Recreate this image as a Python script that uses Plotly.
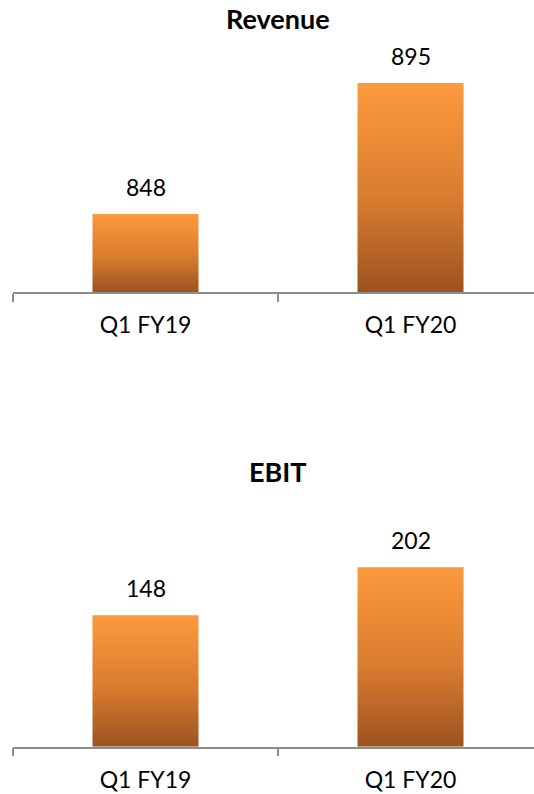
import plotly.graph_objects as go

categories = ["Q1 FY19", "Q1 FY20"]
revenue = [848, 895]
ebit = [148, 202]
titles = ["Revenue", "EBIT"]

W, H = 534, 794
FONT = "Lato"
AXIS_COLOR = "#8c8c8c"
GRAD = [[0.0, "#9C531F"], [0.45, "#D97C2F"], [1.0, "#FD9A3E"]]
BAR_W = 0.4

# pixel layout (top-based) -> paper fractions
def py(px):
    return 1 - px / H

panels = [
    dict(vals=revenue, title=titles[0], rng=[820, 900], bottom=292, top=69, title_y=18,
         xa="x", ya="y"),
    dict(vals=ebit, title=titles[1], rng=[0, 250], bottom=746.7, top=524.7, title_y=472,
         xa="x2", ya="y2"),
]

fig = go.Figure()
annotations = []
for p in panels:
    base = p["rng"][0]
    for i, v in enumerate(p["vals"]):
        xs = [i - BAR_W / 2, i + BAR_W / 2, i + BAR_W / 2, i - BAR_W / 2, i - BAR_W / 2]
        ys = [base, base, v, v, base]
        fig.add_trace(go.Scatter(
            x=xs, y=ys, xaxis=p["xa"], yaxis=p["ya"], mode="lines",
            line=dict(width=0), fill="toself",
            fillgradient=dict(type="vertical", colorscale=GRAD),
            hoverinfo="skip", showlegend=False,
        ))
        annotations.append(dict(
            x=i, y=v, xref=p["xa"], yref=p["ya"], text=str(v), showarrow=False,
            yanchor="middle", yshift=27, font=dict(family=FONT, size=23, color="#000000"),
        ))
    annotations.append(dict(
        x=0.5, y=py(p["title_y"]), xref=p["xa"], yref="paper", text="<b>" + p["title"] + "</b>",
        showarrow=False, yanchor="middle", font=dict(family=FONT, size=27, color="#000000"),
    ))

xdom = [13 / W, 1.0]
xrange = [-0.5, -0.5 + (W - 13) / 265]

def xaxis_cfg(anchor):
    return dict(
        domain=xdom, range=xrange, anchor=anchor,
        tickmode="array", tickvals=list(range(len(categories))), ticktext=categories,
        ticks="", showline=True, linecolor=AXIS_COLOR, linewidth=1.5,
        showgrid=False, zeroline=False,
        tickfont=dict(family=FONT, size=23, color="#000000"),
        ticklabelstandoff=12,
        minor=dict(tickmode="array", tickvals=[-0.5, 0.5, 1.5], ticks="outside",
                   ticklen=8, tickwidth=1.5, tickcolor=AXIS_COLOR, showgrid=False),
        fixedrange=True,
    )

def yaxis_cfg(p, anchor):
    return dict(
        domain=[py(p["bottom"]), py(p["top"])], range=p["rng"], anchor=anchor,
        visible=False, showgrid=False, zeroline=False, fixedrange=True,
    )

fig.update_layout(
    width=W, height=H, margin=dict(l=0, r=0, t=0, b=0),
    paper_bgcolor="white", plot_bgcolor="white", showlegend=False,
    xaxis=xaxis_cfg("y"), yaxis=yaxis_cfg(panels[0], "x"),
    xaxis2=xaxis_cfg("y2"), yaxis2=yaxis_cfg(panels[1], "x2"),
    annotations=annotations,
)

fig.write_html("out.html")
